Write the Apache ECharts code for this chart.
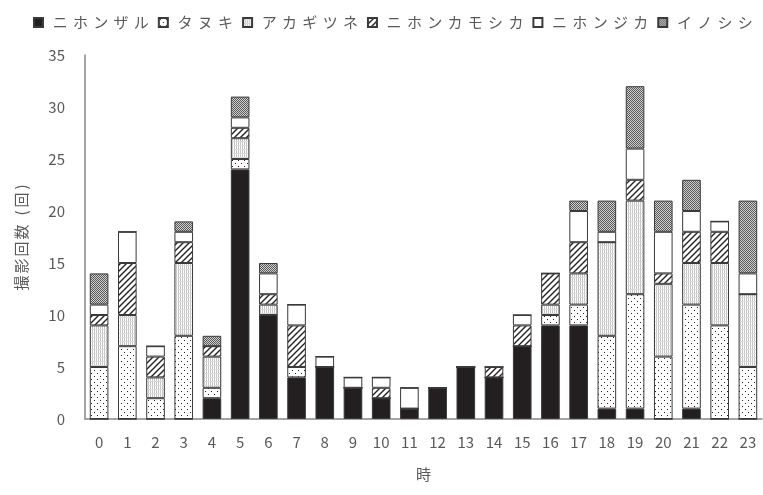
<!DOCTYPE html>
<html>
<head>
<meta charset="utf-8">
<script src="https://cdn.jsdelivr.net/npm/echarts@6/dist/echarts.min.js"></script>
<style>
  html, body { margin: 0; padding: 0; background: #fff; }
  #chart { width: 763px; height: 495px; }
</style>
</head>
<body>
<div id="chart"></div>
<script>
// Hour of day (0–23)
const hours = ['0','1','2','3','4','5','6','7','8','9','10','11','12','13','14','15','16','17','18','19','20','21','22','23'];

// Camera-trap detections per hour, by species
const nihonzaru   = [0,0,0,0,2,24,10,4,5,3,2,1,3,5,4,7,9,9,1,1,0,1,0,0];
const tanuki      = [5,7,2,8,1,1,0,1,0,0,0,0,0,0,0,0,1,2,7,11,6,10,9,5];
const akagitsune  = [4,3,2,7,3,2,1,0,0,0,0,0,0,0,0,0,1,3,9,9,7,4,6,7];
const kamoshika   = [1,5,2,2,1,1,1,4,0,0,1,0,0,0,1,2,3,3,0,2,1,3,3,0];
const nihonjika   = [1,3,1,1,0,1,2,2,1,1,1,2,0,0,0,1,0,3,1,3,4,2,1,2];
const inoshishi   = [3,0,0,1,1,2,1,0,0,0,0,0,0,0,0,0,0,1,3,6,3,3,0,7];

const seriesNames = ['ニホンザル','タヌキ','アカギツネ','ニホンカモシカ','ニホンジカ','イノシシ'];
const yAxisTitle = '撮影回数 (回)';
const xAxisTitle = '時';

// Small tiled canvases used as fill patterns
function makeTile(size, draw) {
  const c = document.createElement('canvas');
  c.width = size; c.height = size;
  const ctx = c.getContext('2d');
  draw(ctx, size);
  return { image: c, repeat: 'repeat' };
}

const dotFill = makeTile(6, (ctx) => {
  ctx.fillStyle = '#ffffff'; ctx.fillRect(0, 0, 6, 6);
  ctx.fillStyle = '#222222';
  ctx.fillRect(1, 1, 1, 1);
  ctx.fillRect(4, 4, 1, 1);
});

const gridFill = makeTile(4, (ctx) => {
  ctx.fillStyle = '#ffffff'; ctx.fillRect(0, 0, 4, 4);
  ctx.fillStyle = '#c4c4c4';
  ctx.fillRect(0, 0, 1, 4);
  ctx.fillRect(2, 0, 1, 4);
  ctx.fillStyle = '#dcdcdc';
  ctx.fillRect(0, 1, 4, 1);
});

const hatchFill = makeTile(6, (ctx) => {
  ctx.fillStyle = '#ffffff'; ctx.fillRect(0, 0, 6, 6);
  ctx.strokeStyle = '#222222';
  ctx.lineWidth = 1.4;
  ctx.beginPath();
  ctx.moveTo(-1, 7); ctx.lineTo(7, -1);
  ctx.moveTo(-1, 1); ctx.lineTo(1, -1);
  ctx.moveTo(5, 7); ctx.lineTo(7, 5);
  ctx.stroke();
});

const darkDotFill = makeTile(2, (ctx) => {
  ctx.fillStyle = '#cfcfcf'; ctx.fillRect(0, 0, 2, 2);
  ctx.fillStyle = '#5a5a5a';
  ctx.fillRect(0, 0, 1, 1);
  ctx.fillRect(1, 1, 1, 1);
});

const fills = ['#231f20', dotFill, gridFill, hatchFill, '#ffffff', darkDotFill];
const values = [nihonzaru, tanuki, akagitsune, kamoshika, nihonjika, inoshishi];

const textColor = '#595959';
const fontFamily = '"Noto Sans CJK JP", "Noto Sans", sans-serif';

// Spread each character into its own fixed-width cell (wide letter spacing);
// spaces and brackets get narrower cells than full-width glyphs
function spaced(text) {
  return Array.from(text).map(ch => {
    if (ch === ' ') return '{s| }';
    if (ch === '(' || ch === ')') return '{p|' + ch + '}';
    return '{c|' + ch + '}';
  }).join('');
}

const chart = echarts.init(document.getElementById('chart'), null, { renderer: 'canvas' });

chart.setOption({
  animation: false,
  textStyle: { fontFamily: fontFamily, color: textColor },
  legend: {
    top: 10,
    left: 28,
    itemWidth: 9,
    itemHeight: 9,
    itemGap: 9,
    icon: 'rect',
    formatter: spaced,
    textStyle: {
      fontSize: 15,
      color: textColor,
      fontFamily: fontFamily,
      padding: [0, 0, 0, 2],
      rich: { c: { width: 20.3, align: 'center', fontSize: 15, color: textColor, fontFamily: fontFamily } }
    },
    data: seriesNames
  },
  grid: { left: 85, right: 1, top: 55, bottom: 76, containLabel: false },
  xAxis: {
    type: 'category',
    data: hours,
    name: xAxisTitle,
    nameLocation: 'middle',
    nameGap: 48,
    nameTextStyle: { fontSize: 15, color: textColor },
    axisLine: { lineStyle: { color: '#868686', width: 1.5 } },
    axisTick: { show: false },
    axisLabel: { fontSize: 15, color: textColor, margin: 16 }
  },
  yAxis: {
    type: 'value',
    min: 0,
    max: 35,
    interval: 5,
    name: spaced(yAxisTitle),
    nameLocation: 'middle',
    nameGap: 56,
    nameRotate: 90,
    nameTextStyle: {
      fontSize: 15,
      color: textColor,
      rich: {
        c: { width: 17, align: 'center', fontSize: 15, color: textColor, fontFamily: fontFamily },
        s: { width: 6, align: 'center', fontSize: 15, color: textColor, fontFamily: fontFamily },
        p: { width: 9, align: 'center', fontSize: 15, color: textColor, fontFamily: fontFamily }
      }
    },
    axisLine: { show: true, lineStyle: { color: '#868686', width: 1.5 } },
    axisTick: { show: false },
    splitLine: { show: false },
    axisLabel: { fontSize: 15, color: textColor, margin: 20 }
  },
  series: seriesNames.map((name, i) => ({
    name: name,
    type: 'bar',
    stack: 'total',
    barCategoryGap: '34%',
    data: values[i],
    itemStyle: {
      color: fills[i],
      borderColor: '#3a3a3a',
      borderWidth: 1
    }
  }))
});
</script>
</body>
</html>
